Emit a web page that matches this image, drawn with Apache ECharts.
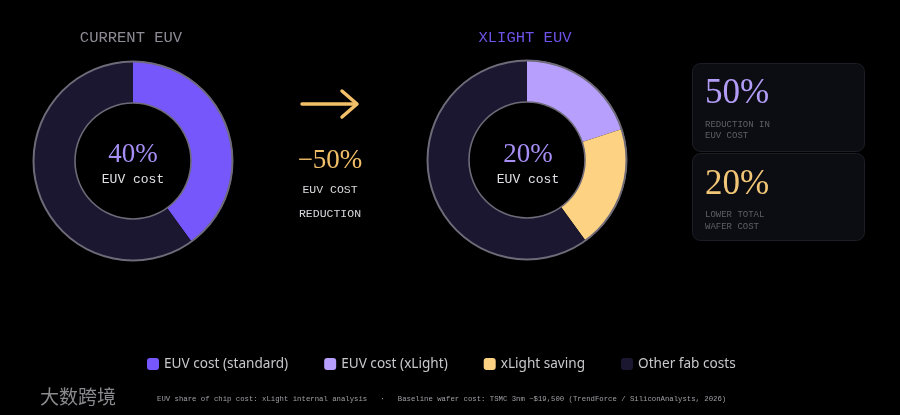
<!DOCTYPE html>
<html>
<head>
<meta charset="utf-8">
<script src="https://cdn.jsdelivr.net/npm/echarts@6/dist/echarts.min.js"></script>
<style>
  html, body { margin: 0; padding: 0; background: #000; }
  #chart { width: 900px; height: 415px; }
</style>
</head>
<body>
<div id="chart"></div>
<script>
// data
const legendNames = ['EUV cost (standard)', 'EUV cost (xLight)', 'xLight saving', 'Other fab costs'];
const legendColors = ['#7657fb', '#b7a0fd', '#fdd282', '#1b1730'];
const currentNames = ['EUV cost (standard)', 'Other fab costs'];
const currentValues = [40, 60];
const xlightNames = ['EUV cost (xLight)', 'xLight saving', 'Other fab costs'];
const xlightValues = [20, 20, 60];

const colorOf = name => legendColors[legendNames.indexOf(name)];
const toData = (names, vals) => names.map((n, i) => ({
  name: n, value: vals[i], itemStyle: { color: colorOf(n) }
}));

const mono = '"Liberation Mono", "DejaVu Sans Mono", monospace';
const serif = '"Liberation Serif", "DejaVu Serif", serif';

// outline ring made from a one-slice pie
const ring = (center, r) => ({
  type: 'pie', silent: true, center: center, radius: r, z: 5,
  label: { show: false }, labelLine: { show: false },
  itemStyle: { color: '#6e6a78' },
  data: [{ name: 'ring', value: 1 }]
});

const donut = (center, data) => ({
  type: 'pie', center: center, radius: [58, 100],
  startAngle: 90, clockwise: true, silent: true,
  label: { show: false }, labelLine: { show: false },
  itemStyle: { borderWidth: 0 },
  data: data
});

const txt = (x, y, text, font, size, color, align) => ({
  type: 'text', x: x, y: y, silent: true,
  style: {
    text: text, fontFamily: font, fontSize: size, fill: color,
    textAlign: align || 'center', textVerticalAlign: 'middle'
  }
});

const chart = echarts.init(document.getElementById('chart'));
chart.setOption({
  backgroundColor: '#000',
  animation: false,
  legend: {
    data: legendNames,
    left: 142, top: 352,
    icon: 'roundRect',
    itemWidth: 12, itemHeight: 12, itemGap: 36,
    textStyle: { color: '#c8c8cc', fontSize: 13.6, fontFamily: '"Noto Sans", sans-serif' },
    selectedMode: false
  },
  series: [
    donut([133, 161], toData(currentNames, currentValues)),
    ring([133, 161], [98.5, 100.5]),
    ring([133, 161], [57.2, 58.8]),
    donut([527, 160], toData(xlightNames, xlightValues)),
    ring([527, 160], [98.5, 100.5]),
    ring([527, 160], [57.2, 58.8])
  ],
  graphic: [
    txt(131, 38, 'CURRENT EUV', mono, 15.5, '#8e8b95'),
    txt(525, 38, 'XLIGHT EUV', mono, 15.5, '#6f52e6'),
    txt(133, 155, '40%', serif, 27, '#a68ef5'),
    txt(133, 180, 'EUV cost', mono, 13, '#e2e2e6'),
    txt(528, 155, '20%', serif, 27, '#a68ef5'),
    txt(528, 180, 'EUV cost', mono, 13, '#e2e2e6'),
    // arrow
    {
      type: 'polyline', silent: true,
      shape: { points: [[302, 104], [356, 104]] },
      style: { stroke: '#f3c06a', lineWidth: 3.5, lineCap: 'round' }
    },
    {
      type: 'polyline', silent: true,
      shape: { points: [[342, 91], [357, 104], [342, 117]] },
      style: { stroke: '#f3c06a', lineWidth: 3.5, lineCap: 'round', lineJoin: 'round', fill: null }
    },
    txt(330, 161, '\u221250%', serif, 27, '#f3c06a'),
    txt(330, 190, 'EUV COST', mono, 11.5, '#d8d8dc'),
    txt(330, 214, 'REDUCTION', mono, 11.5, '#d8d8dc'),
    // cards
    {
      type: 'rect', silent: true,
      shape: { x: 692.5, y: 63.5, width: 172, height: 88, r: 8 },
      style: { fill: '#0c0d12', stroke: '#1d1e26', lineWidth: 1 }
    },
    {
      type: 'rect', silent: true,
      shape: { x: 692.5, y: 153.5, width: 172, height: 87, r: 8 },
      style: { fill: '#0c0d12', stroke: '#1d1e26', lineWidth: 1 }
    },
    txt(705, 94, '50%', serif, 35, '#b29cf6', 'left'),
    txt(705, 125, 'REDUCTION IN', mono, 9, '#5f5f68', 'left'),
    txt(705, 136, 'EUV COST', mono, 9, '#5f5f68', 'left'),
    txt(705, 185, '20%', serif, 35, '#f1c677', 'left'),
    txt(705, 215, 'LOWER TOTAL', mono, 9, '#5f5f68', 'left'),
    txt(705, 227, 'WAFER COST', mono, 9, '#5f5f68', 'left'),
    // footer
    txt(157, 399, 'EUV share of chip cost: xLight internal analysis   \u00b7   Baseline wafer cost: TSMC 3nm ~$19,500 (TrendForce / SiliconAnalysts, 2026)', mono, 7.3, '#a0a0a6', 'left'),
    txt(40, 397, '大数跨境', '"Noto Sans CJK SC", sans-serif', 19, '#8a8a8e', 'left')
  ]
});
</script>
</body>
</html>
